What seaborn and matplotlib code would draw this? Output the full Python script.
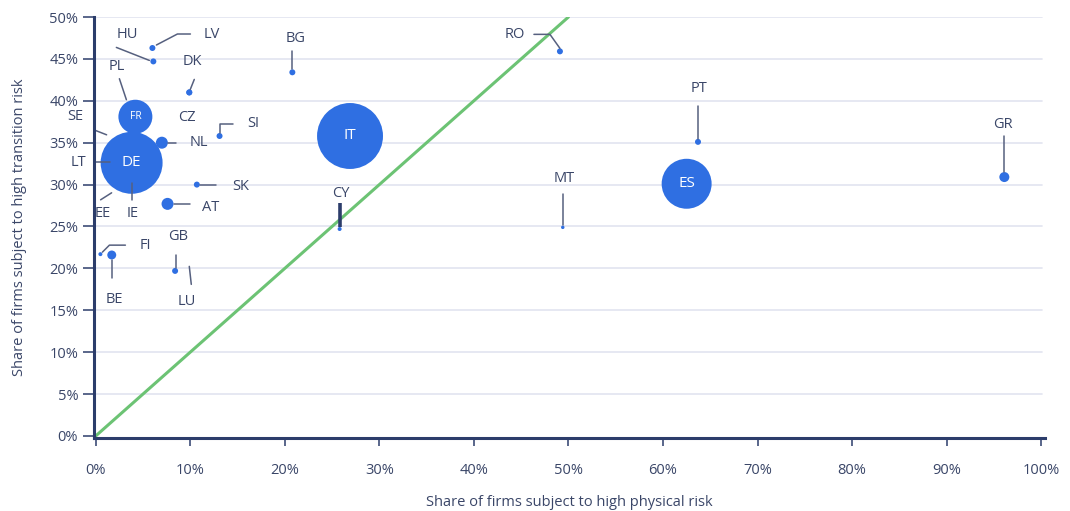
import numpy as np
import pandas as pd
import seaborn as sns
import matplotlib.pyplot as plt

# values (percent of firms)
countries = ['SE', 'LT', 'EE', 'IE', 'PL', 'CZ', 'LU',
             'DE', 'IT', 'ES', 'FR',
             'HU', 'LV', 'DK', 'BG', 'SI', 'NL', 'SK', 'AT', 'CY',
             'GB', 'FI', 'BE', 'RO', 'MT', 'PT', 'GR']
physical = [3.8, 3.8, 3.8, 3.8, 4.2, 9.9, 9.9,
            3.8, 26.9, 62.5, 4.2,
            6.1, 6.0, 9.9, 20.8, 13.1, 7.0, 10.7, 7.6, 25.8,
            8.4, 0.5, 1.7, 49.1, 49.4, 63.7, 96.1]
transition = [32.6, 32.6, 32.6, 32.6, 38.1, 41.0, 20.6,
              32.6, 35.8, 30.1, 38.1,
              44.7, 46.3, 41.0, 43.4, 35.8, 35.0, 30.0, 27.7, 24.7,
              19.7, 21.7, 21.6, 45.9, 24.9, 35.1, 30.9]
# relative bubble weight (area)
weight = [9, 9, 9, 9, 9, 9, 0,
          961, 1089, 625, 289,
          9, 9, 9, 9, 9, 36, 9, 36, 4,
          9, 4, 20, 9, 3, 9, 25]

diag_x = [0, 50]
diag_y = [0, 50]

x_ticks = np.arange(0, 101, 10)
y_ticks = np.arange(0, 51, 5)

df = pd.DataFrame({'country': countries, 'physical': physical,
                   'transition': transition, 'weight': weight})

BLUE = '#2f6fe2'
NAVY = '#2c3d6b'
TXT = '#3a4668'
LEAD = '#56607f'
GRID = '#e2e4f0'
GREEN = '#6cc374'

sns.set_theme(style='white')
plt.rcParams['font.family'] = ['Open Sans', 'DejaVu Sans']

fig = plt.figure(figsize=(10.7, 5.11), dpi=100)
ax = fig.add_axes([93.5 / 1070, 73 / 511, 951.5 / 1070, 421 / 511])
ax.set_xlim(-0.23, 100.4)
ax.set_ylim(-0.24, 50)

for yv in y_ticks[1:]:
    ax.axhline(yv, xmax=0.997, color=GRID, lw=1.2, zorder=0)

sns.lineplot(x=diag_x, y=diag_y, color=GREEN, lw=2.2, ax=ax, zorder=2)

wmax = max(weight)
sns.scatterplot(data=df, x='physical', y='transition', size='weight',
                sizes=(0, wmax * 2.07), size_norm=(0, wmax), color=BLUE,
                linewidth=0, legend=False, ax=ax, zorder=3)

# label layout: text offset and leader polyline, in pixels (dx right, dy down)
layout = {
    'HU': ((-26, -27), [(-37, -14), (-4, -1)]),
    'LV': ((59, -14), [(4, -3), (25, -14), (38, -14)]),
    'DK': ((3, -31), [(5, -13), (1, -3)]),
    'CZ': ((-2, 25), []),
    'BG': ((3, -34), [(0, -21), (0, -3)]),
    'PL': ((-19, -50), [(-16, -38), (-9, -17)]),
    'SI': ((34, -12), [(0, -3), (0, -12), (13, -12)]),
    'NL': ((37, 0), [(6, 0), (14, 0)]),
    'SE': ((-56, -46), [(-48, -37), (-25, -28)]),
    'LT': ((-53, 0), [(-45, -1), (-22, -1)]),
    'EE': ((-29, 51), [(-31, 37), (-20, 30)]),
    'IE': ((1, 51), [(0, 20), (0, 37)]),
    'SK': ((44, 2), [(3, 0), (19, 0)]),
    'AT': ((43, 4), [(6, 0), (22, 0)]),
    'GB': ((3, -34), [(1, -16), (1, -3)]),
    'LU': ((-2, 38), [(0, 3), (2, 21)]),
    'FI': ((45, -9), [(2, -2), (9, -9), (25, -9)]),
    'BE': ((3, 45), [(0, 5), (0, 23)]),
    'RO': ((-45, -17), [(0, -3), (-10, -17), (-26, -17)]),
    'MT': ((1, -49), [(0, -33), (0, -2)]),
    'PT': ((1, -53), [(0, -36), (0, -3)]),
    'GR': ((-1, -53), [(0, -41), (0, -5)]),
    'CY': ((1, -36), []),
}
inner = {'DE': 11, 'IT': 11, 'ES': 11, 'FR': 7.5}

fig.canvas.draw()
inv = ax.transData.inverted()
for _, row in df.iterrows():
    c = row['country']
    x, y = row['physical'], row['transition']
    if c in inner:
        ax.text(x, y, c, color='white', fontsize=inner[c], ha='center',
                va='center', zorder=5)
        continue
    (tdx, tdy), path = layout[c]
    if path:
        base = ax.transData.transform((x, y))
        pts = inv.transform([(base[0] + dx, base[1] - dy) for dx, dy in path])
        ax.plot(pts[:, 0], pts[:, 1], color=LEAD, lw=1.1, zorder=4)
    ax.annotate(c, (x, y), xytext=(tdx, -tdy), textcoords='offset pixels',
                ha='center', va='center', fontsize=10.5, color=TXT)

# thick marker above CY
cy = df[df.country == 'CY'].iloc[0]
base = ax.transData.transform((cy['physical'], cy['transition']))
pts = inv.transform([(base[0], base[1] + 2), (base[0], base[1] + 26)])
ax.plot(pts[:, 0], pts[:, 1], color=NAVY, lw=2.6, zorder=4, solid_capstyle='butt')

sns.despine(ax=ax)
for s in ['left', 'bottom']:
    ax.spines[s].set_color(NAVY)
    ax.spines[s].set_linewidth(2.2)
    ax.spines[s].set_zorder(6)

ax.set_xticks(x_ticks)
ax.set_xticklabels([f'{v}%' for v in x_ticks])
ax.set_yticks(y_ticks)
ax.set_yticklabels([f'{v}%' for v in y_ticks])
ax.tick_params(axis='x', direction='out', length=6, width=1.1, color=NAVY,
               pad=12, labelsize=10.5, labelcolor=TXT, bottom=True)
ax.tick_params(axis='y', direction='out', length=8, width=1.1, color=NAVY,
               pad=3, labelsize=10.5, labelcolor=TXT, left=True)

ax.set_xlabel('Share of firms subject to high physical risk', fontsize=10.5,
              color=TXT, labelpad=12)
ax.set_ylabel('Share of firms subject to high transition risk', fontsize=10.5,
              color=TXT, labelpad=16)

fig.savefig('out.png', dpi=100)
